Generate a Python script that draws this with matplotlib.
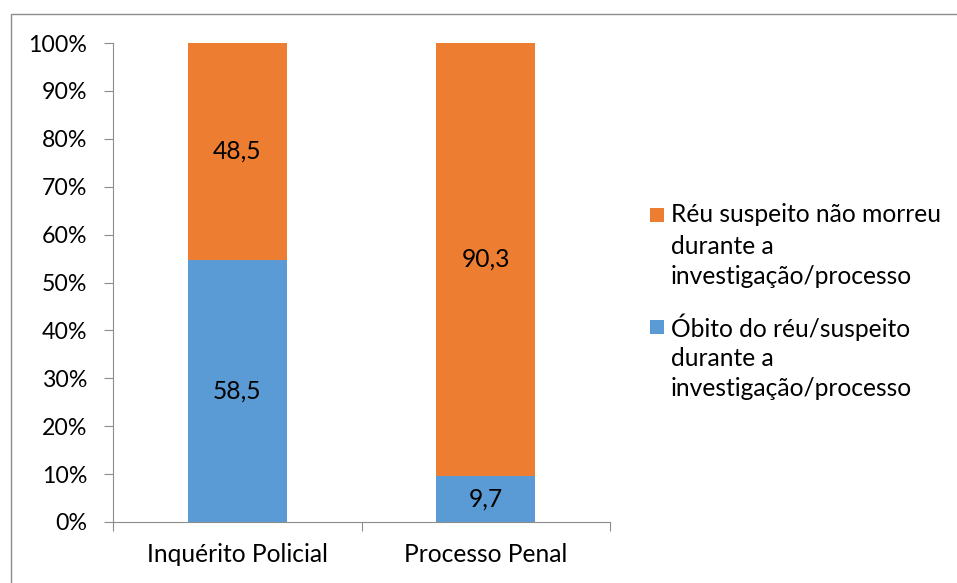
import matplotlib
matplotlib.use("Agg")
import matplotlib.pyplot as plt
from matplotlib.patches import Rectangle

categories = ["Inquérito Policial", "Processo Penal"]
obito = [58.5, 9.7]
nao_morreu = [48.5, 90.3]
series_names = ["Réu suspeito não morreu\ndurante a\ninvestigação/processo",
                "Óbito do réu/suspeito\ndurante a\ninvestigação/processo"]
yticks = [0, 10, 20, 30, 40, 50, 60, 70, 80, 90, 100]

BLUE = "#5B9BD5"
ORANGE = "#ED7D31"
GREY = "#8c8c8c"
plt.rcParams['font.family'] = ['Lato', 'DejaVu Sans']

W, H = 957, 583
fig = plt.figure(figsize=(W/100, H/100), dpi=100)
fig.patches.append(Rectangle((11/W, -0.2), 1.2, 1.2 - 14/H, transform=fig.transFigure,
                             fill=False, edgecolor=GREY, linewidth=1.0))

ax = fig.add_axes([113/W, 1 - 522/H, (610-113)/W, (522-43)/H])
x = range(len(categories))
tot = [a + b for a, b in zip(obito, nao_morreu)]
ob_pct = [a / t * 100 for a, t in zip(obito, tot)]
nm_pct = [b / t * 100 for b, t in zip(nao_morreu, tot)]
ax.bar(x, ob_pct, width=0.4, color=BLUE)
ax.bar(x, nm_pct, bottom=ob_pct, width=0.4, color=ORANGE)
fs = 17.7
for i in x:
    ax.text(i, ob_pct[i]/2, f"{obito[i]:.1f}".replace(".", ","), ha="center", va="center", fontsize=fs)
    ax.text(i, ob_pct[i] + nm_pct[i]/2, f"{nao_morreu[i]:.1f}".replace(".", ","), ha="center", va="center", fontsize=fs)

ax.set_xlim(-0.5, 1.5)
ax.set_ylim(0, 100)
ax.set_yticks(yticks)
ax.set_yticklabels([f"{v}%" for v in yticks], fontsize=16.7)
ax.set_xticks([-0.5, 0.5, 1.5], minor=False)
ax.set_xticklabels([])
ax.set_xticks(list(x), minor=True)
ax.set_xticklabels(categories, minor=True, fontsize=fs)
ax.tick_params(axis="x", which="minor", length=0, pad=15)
ax.tick_params(axis="x", which="major", length=6.5, color=GREY)
ax.tick_params(axis="y", length=6.5, color=GREY, pad=12)
for s in ["top", "right"]:
    ax.spines[s].set_visible(False)
for s in ["left", "bottom"]:
    ax.spines[s].set_color(GREY)

# legend drawn manually (square aligned with first line of each entry)
colors = [ORANGE, BLUE]
entry_top = [215, 327]
line_h = 31
for name, c, y0 in zip(series_names, colors, entry_top):
    fig.patches.append(Rectangle((650/W, 1 - (y0 + 7)/H), 14/W, 14/H,
                                 transform=fig.transFigure, facecolor=c, edgecolor="none"))
    for k, line in enumerate(name.split("\n")):
        fig.text(671/W, 1 - (y0 + k*line_h)/H, line, ha="left", va="center", fontsize=fs)

fig.savefig("out.png", dpi=100)
